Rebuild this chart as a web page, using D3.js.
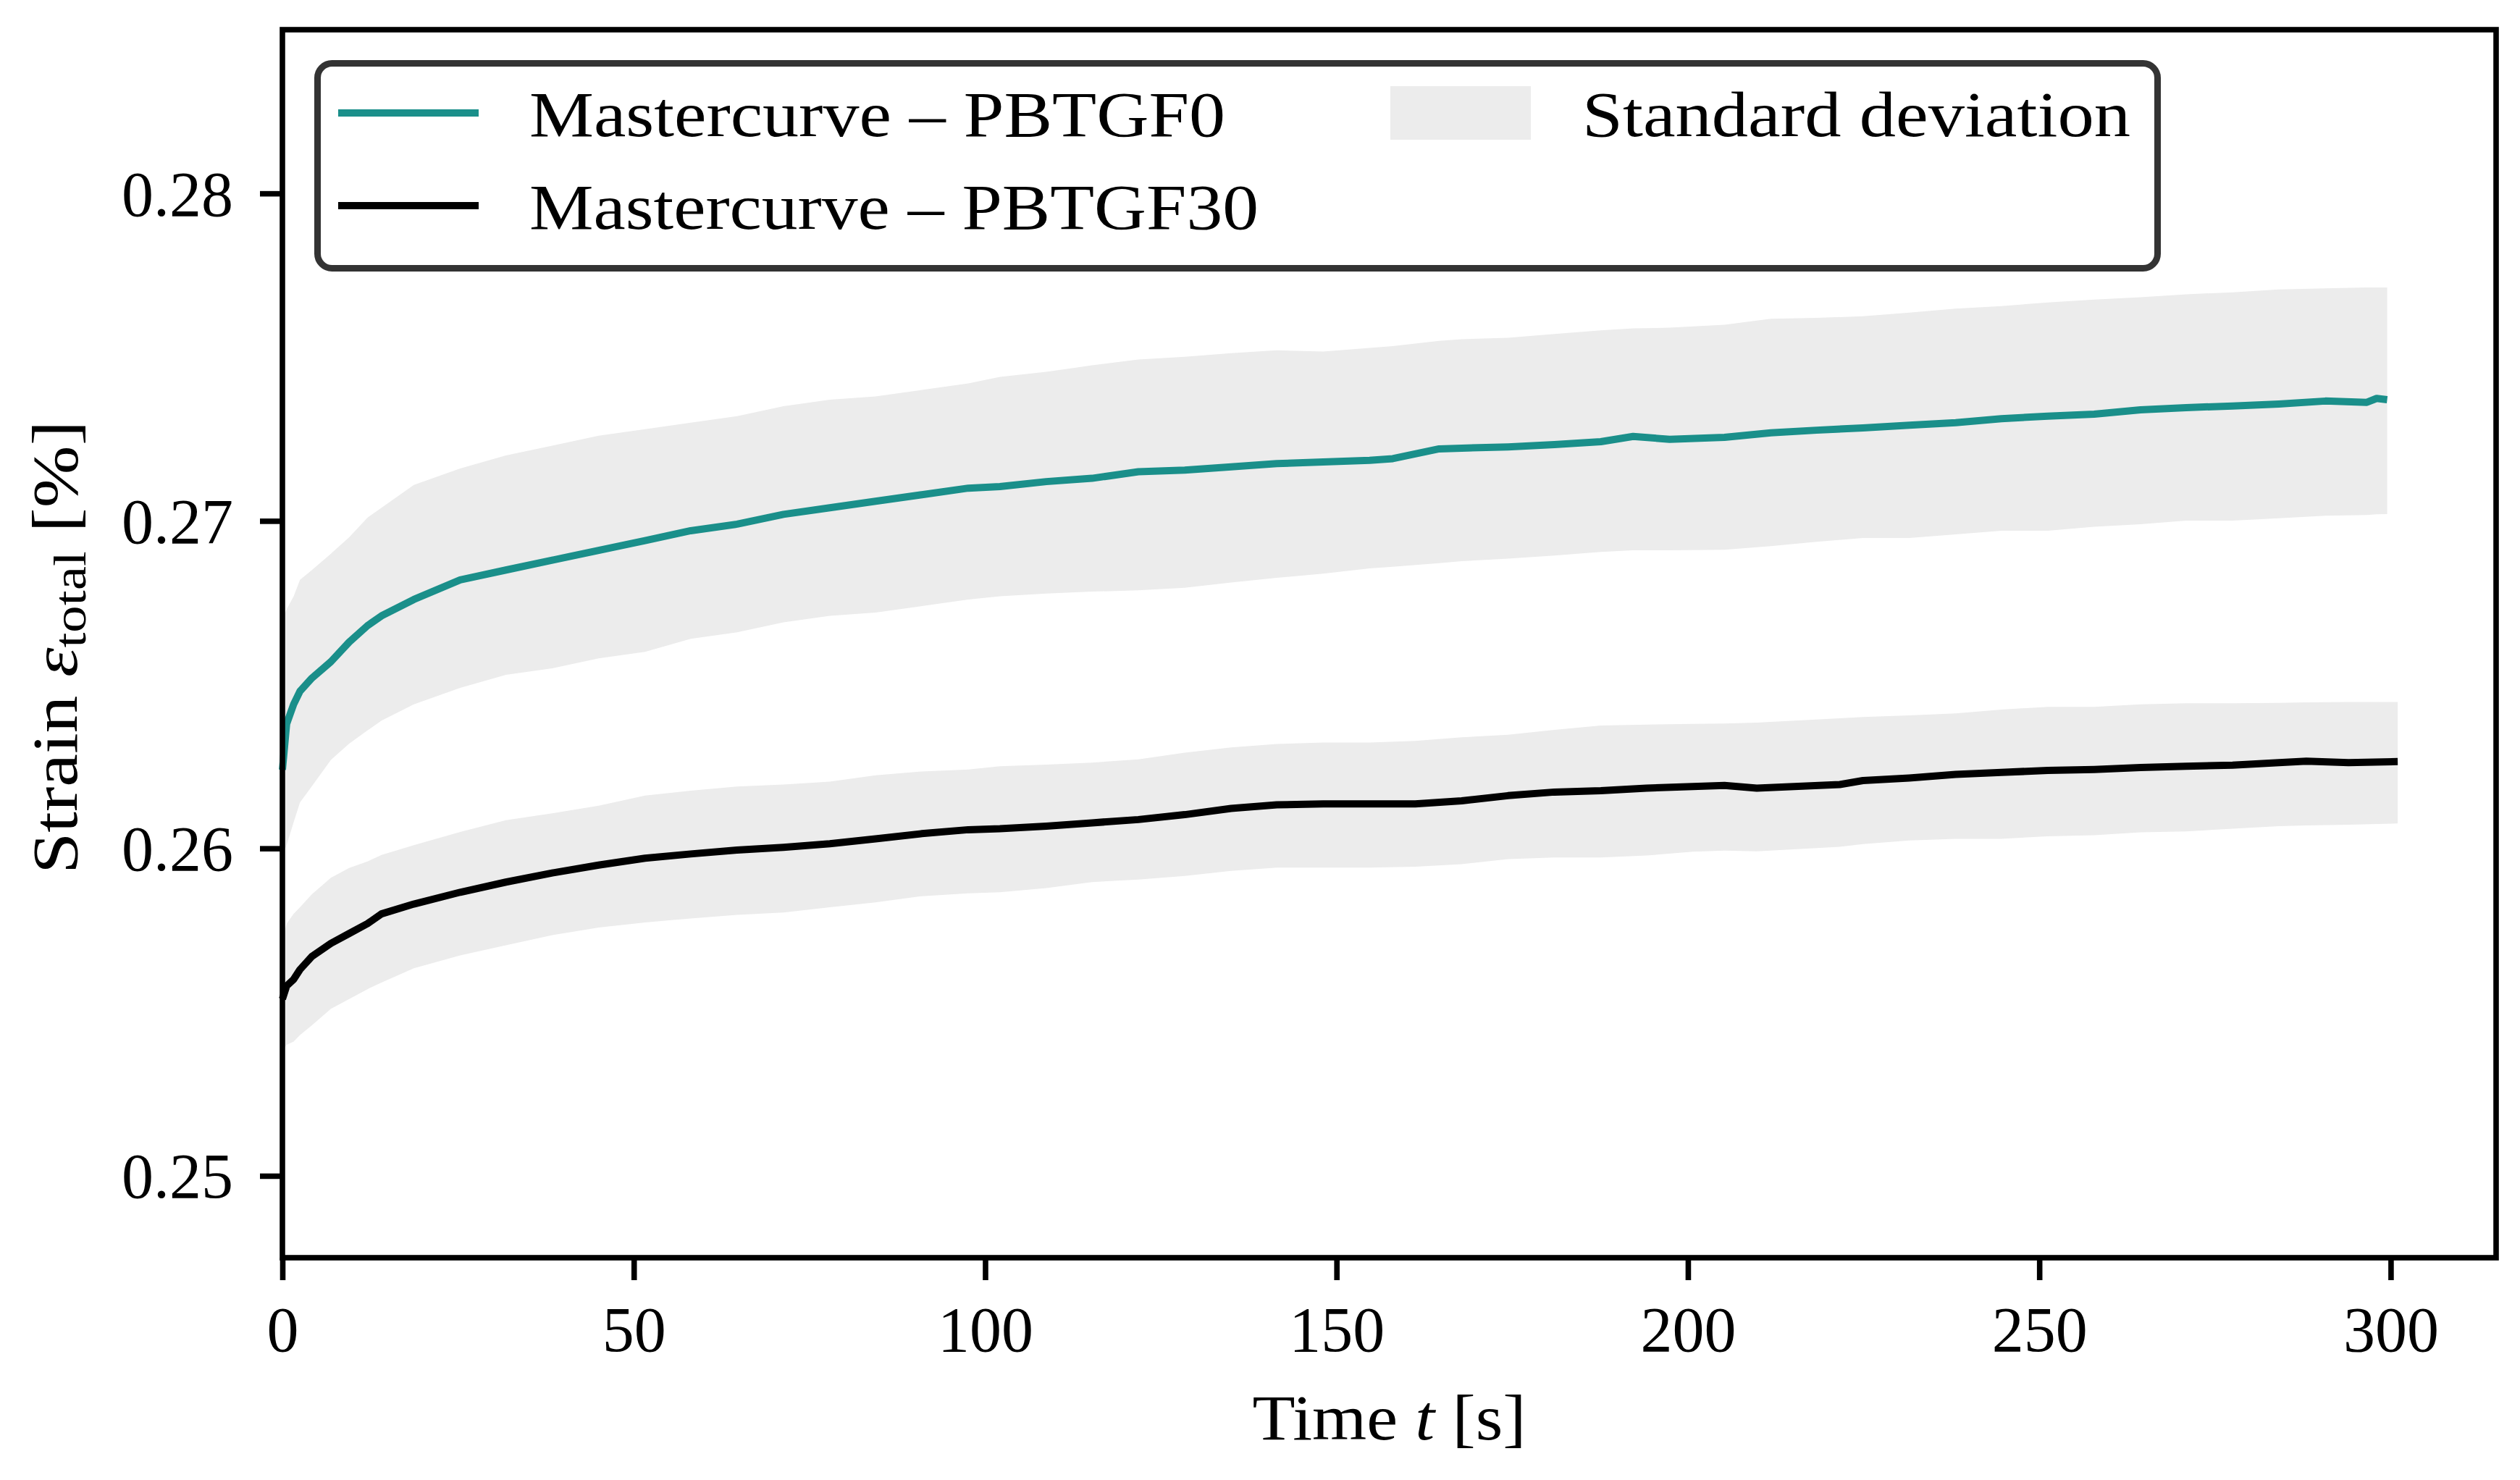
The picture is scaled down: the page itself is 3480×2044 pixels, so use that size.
<!DOCTYPE html>
<html>
<head>
<meta charset="utf-8">
<script src="https://cdn.jsdelivr.net/npm/d3@7"></script>
<style>
    body { margin: 0; background: #fff; }
    svg { display: block; }
    text { font-family: 'Liberation Serif', 'DejaVu Serif', serif; fill: #000; }
</style>
</head>
<body>
<div id="chart"></div>
<script>
// Mastercurve PBTGF0 (time [s], mean, mean - std, mean + std)
const tGF0 = [0, 0.6, 1.6, 2.5, 4.2, 6.9, 9.5, 12.1, 14.1, 18.7,
    25.3, 31.8, 38.4, 45, 51.6, 58.1, 64.7, 71.3, 77.9, 84.4,
    91, 97.6, 102.1, 108.7, 115.2, 121.8, 128.4, 135, 141.5, 148.1,
    154.7, 158, 164.6, 167.8, 174.4, 181, 187.6, 192.2, 197.4, 205.2,
    211.8, 218.3, 224.9, 231.5, 238.1, 244.6, 251.2, 257.8, 264.4, 270.9,
    277.5, 284.1, 290.7, 296.6, 298, 299.5];
const meanGF0 = [0.2624, 0.2638, 0.2644, 0.2648, 0.2652, 0.2657, 0.2663, 0.2668, 0.2671, 0.2676,
    0.2682, 0.2685, 0.2688, 0.2691, 0.2694, 0.2697, 0.2699, 0.2702, 0.2704, 0.2706,
    0.2708, 0.2710, 0.27105, 0.2712, 0.2713, 0.2715, 0.27155, 0.27165, 0.27175, 0.2718,
    0.27185, 0.2719, 0.2722, 0.27222, 0.27226, 0.27233, 0.27242, 0.27258, 0.27249, 0.27255,
    0.27269, 0.27277, 0.27284, 0.27292, 0.27300, 0.27312, 0.27320, 0.27326, 0.27339, 0.27346,
    0.27351, 0.27357, 0.27366, 0.27362, 0.27374, 0.27370];
const lowerGF0 = [0.2598, 0.2601, 0.2608, 0.2614, 0.2619, 0.2627, 0.2632, 0.2636, 0.2639, 0.2644,
    0.2649, 0.2653, 0.2655, 0.2658, 0.2660, 0.2664, 0.2666, 0.2669, 0.2671, 0.2672,
    0.2674, 0.2676, 0.2677, 0.26778, 0.26784, 0.26788, 0.26796, 0.26812, 0.26826, 0.26839,
    0.26855, 0.26860, 0.26871, 0.26877, 0.26885, 0.26894, 0.26905, 0.26910, 0.26910, 0.26912,
    0.26923, 0.26936, 0.26948, 0.26948, 0.26959, 0.26970, 0.26970, 0.26982, 0.26990, 0.27001,
    0.27001, 0.27008, 0.27016, 0.27018, 0.27020, 0.27021];
const upperGF0 = [0.2670, 0.2673, 0.2677, 0.2682, 0.2685, 0.2690, 0.2695, 0.2701, 0.2704, 0.2711,
    0.2716, 0.2720, 0.2723, 0.2726, 0.2728, 0.2730, 0.2732, 0.2735, 0.2737, 0.2738,
    0.2740, 0.2742, 0.2744, 0.27455, 0.27475, 0.27493, 0.27501, 0.27512, 0.27521, 0.27517,
    0.27528, 0.27534, 0.27550, 0.27555, 0.27559, 0.27571, 0.27582, 0.27588, 0.27590, 0.27599,
    0.27617, 0.27620, 0.27625, 0.27636, 0.27648, 0.27656, 0.27667, 0.27676, 0.27683, 0.27692,
    0.27698, 0.27707, 0.27710, 0.27713, 0.27713, 0.27713];

// Mastercurve PBTGF30
const tGF30 = [0, 0.6, 1.6, 2.5, 4.2, 6.9, 9.5, 12.1, 14.1, 18.7,
    25.3, 31.8, 38.4, 45, 51.6, 58.1, 64.7, 71.3, 77.9, 84.4,
    91, 97.6, 102.1, 108.7, 115.2, 121.8, 128.4, 135, 141.5, 148.1,
    154.7, 161.2, 167.8, 174.4, 181, 187.6, 194.1, 200.7, 205.2, 209.8,
    221.6, 224.9, 231.5, 238.1, 244.6, 251.2, 257.8, 264.4, 270.9, 277.5,
    284.1, 288, 294, 301];
const meanGF30 = [0.2554, 0.2558, 0.2560, 0.2563, 0.2567, 0.2571, 0.2574, 0.2577, 0.2580, 0.2583,
    0.25866, 0.25897, 0.25925, 0.25949, 0.25970, 0.25983, 0.25995, 0.26003, 0.26014, 0.26029,
    0.26045, 0.26057, 0.26060, 0.26068, 0.26078, 0.26088, 0.26103, 0.26122, 0.26133, 0.26136,
    0.26136, 0.26136, 0.26145, 0.26161, 0.26172, 0.26176, 0.26184, 0.26189, 0.26192, 0.26184,
    0.26195, 0.26207, 0.26215, 0.26226, 0.26232, 0.26238, 0.26241, 0.26247, 0.26251, 0.26254,
    0.26262, 0.26266, 0.26262, 0.26265];
const lowerGF30 = [0.2538, 0.2540, 0.2541, 0.2543, 0.2546, 0.2551, 0.2554, 0.2557, 0.2559, 0.25634,
    0.25673, 0.25704, 0.25735, 0.25758, 0.25774, 0.25786, 0.25797, 0.25804, 0.25820, 0.25835,
    0.25854, 0.25863, 0.25866, 0.25879, 0.25897, 0.25905, 0.25916, 0.25931, 0.25941, 0.25941,
    0.25941, 0.25944, 0.25952, 0.25967, 0.25972, 0.25972, 0.25978, 0.25990, 0.25993, 0.25991,
    0.26005, 0.26013, 0.26024, 0.26029, 0.26029, 0.26037, 0.26040, 0.26049, 0.26052, 0.26060,
    0.26068, 0.26070, 0.26072, 0.26076];
const upperGF30 = [0.2572, 0.2577, 0.2580, 0.2582, 0.2586, 0.2591, 0.2594, 0.2596, 0.2598, 0.2601,
    0.2605, 0.26086, 0.26107, 0.26130, 0.26161, 0.26176, 0.26189, 0.26195, 0.26204, 0.26223,
    0.26235, 0.26241, 0.26251, 0.26256, 0.26262, 0.26272, 0.26292, 0.26308, 0.26319, 0.26323,
    0.26323, 0.26328, 0.26339, 0.26347, 0.26362, 0.26375, 0.26378, 0.26380, 0.26381, 0.26384,
    0.26397, 0.26401, 0.26406, 0.26412, 0.26424, 0.26432, 0.26432, 0.26440, 0.26443, 0.26443,
    0.26444, 0.26446, 0.26447, 0.26447];

// Axis ticks and legend labels
const xTicks = [0, 50, 100, 150, 200, 250, 300];
const yTicks = [0.25, 0.26, 0.27, 0.28];
const legendLines = ['Mastercurve – PBTGF0', 'Mastercurve – PBTGF30'];
const legendBand = 'Standard deviation';

const width = 3480;
const height = 2044;
const plot = { left: 390, right: 3447, top: 41, bottom: 1737 };
const colors = { gf0: '#1a8f8a', gf30: '#000000', band: '#ececec', frame: '#333333' };
const fontSize = 88;
const lineWidth = 10;
const spineWidth = 7.6;
const tickLen = 31;

const svg = d3.select('#chart').append('svg')
    .attr('width', width)
    .attr('height', height);

svg.append('rect')
    .attr('width', width)
    .attr('height', height)
    .attr('fill', '#fff');

// Scales
const x = d3.scaleLinear()
    .domain([0, 315])
    .range([plot.left, plot.right]);

const y = d3.scaleLinear()
    .domain([0.2475, 0.285])
    .range([plot.bottom, plot.top]);

// Build row tables from the arrays
const rowsGF0 = tGF0.map((t, i) => ({ t, mean: meanGF0[i], lo: lowerGF0[i], hi: upperGF0[i] }));
const rowsGF30 = tGF30.map((t, i) => ({ t, mean: meanGF30[i], lo: lowerGF30[i], hi: upperGF30[i] }));

const area = d3.area()
    .x(d => x(d.t))
    .y0(d => y(d.lo))
    .y1(d => y(d.hi));

const line = d3.line()
    .x(d => x(d.t))
    .y(d => y(d.mean));

// Standard deviation bands
[rowsGF0, rowsGF30].forEach(rows => {
    svg.append('path')
        .datum(rows)
        .attr('d', area)
        .attr('fill', colors.band)
        .attr('stroke', 'none');
});

// Mean curves
svg.append('path')
    .datum(rowsGF0)
    .attr('d', line)
    .attr('fill', 'none')
    .attr('stroke', colors.gf0)
    .attr('stroke-width', lineWidth)
    .attr('stroke-linejoin', 'round');

svg.append('path')
    .datum(rowsGF30)
    .attr('d', line)
    .attr('fill', 'none')
    .attr('stroke', colors.gf30)
    .attr('stroke-width', lineWidth)
    .attr('stroke-linejoin', 'round');

// X axis
const xAxis = svg.append('g')
    .attr('transform', `translate(0, ${plot.bottom})`)
    .call(d3.axisBottom(x).tickValues(xTicks).tickSize(tickLen).tickFormat(d3.format('d')));

xAxis.select('.domain').remove();
xAxis.selectAll('.tick line')
    .attr('stroke', '#000')
    .attr('stroke-width', spineWidth);
xAxis.selectAll('.tick text')
    .attr('y', 129)
    .attr('dy', null)
    .style('font-size', fontSize + 'px')
    .style('font-family', "'Liberation Serif', 'DejaVu Serif', serif")
    .attr('fill', '#000');

// Y axis
const yAxis = svg.append('g')
    .attr('transform', `translate(${plot.left}, 0)`)
    .call(d3.axisLeft(y).tickValues(yTicks).tickSize(tickLen).tickFormat(d3.format('.2f')));

yAxis.select('.domain').remove();
yAxis.selectAll('.tick line')
    .attr('stroke', '#000')
    .attr('stroke-width', spineWidth);
yAxis.selectAll('.tick text')
    .attr('x', -68)
    .attr('dy', '0.34em')
    .style('font-size', fontSize + 'px')
    .style('font-family', "'Liberation Serif', 'DejaVu Serif', serif")
    .attr('fill', '#000');

// Spines on all four sides
svg.append('rect')
    .attr('x', plot.left)
    .attr('y', plot.top)
    .attr('width', plot.right - plot.left)
    .attr('height', plot.bottom - plot.top)
    .attr('fill', 'none')
    .attr('stroke', '#000')
    .attr('stroke-width', spineWidth);

// Axis titles
const xLabel = svg.append('text')
    .attr('x', (plot.left + plot.right) / 2)
    .attr('y', 1988)
    .attr('text-anchor', 'middle')
    .attr('textLength', 378)
    .attr('lengthAdjust', 'spacingAndGlyphs')
    .style('font-size', fontSize + 'px');
xLabel.append('tspan').text('Time ');
xLabel.append('tspan').style('font-style', 'italic').text('t');
xLabel.append('tspan').text(' [s]');

const yLabel = svg.append('text')
    .attr('transform', 'translate(106, 894) rotate(-90)')
    .attr('text-anchor', 'middle')
    .attr('textLength', 626)
    .attr('lengthAdjust', 'spacingAndGlyphs')
    .style('font-size', fontSize + 'px');
yLabel.append('tspan').text('Strain ');
yLabel.append('tspan').style('font-style', 'italic').text('ε');
yLabel.append('tspan').attr('dy', 12).style('font-size', '64px').text('total');
yLabel.append('tspan').attr('dy', -12).text(' [%]');

// Legend
const legend = svg.append('g');

legend.append('rect')
    .attr('x', 438.5)
    .attr('y', 87.5)
    .attr('width', 2541)
    .attr('height', 283)
    .attr('rx', 20)
    .attr('fill', '#fff')
    .attr('stroke', colors.frame)
    .attr('stroke-width', 9);

const legendRows = [
    { label: legendLines[0], color: colors.gf0, lineY: 156, baseY: 188, len: 961 },
    { label: legendLines[1], color: colors.gf30, lineY: 284, baseY: 316, len: 1007 }
];

legendRows.forEach(r => {
    legend.append('line')
        .attr('x1', 467)
        .attr('x2', 661)
        .attr('y1', r.lineY)
        .attr('y2', r.lineY)
        .attr('stroke', r.color)
        .attr('stroke-width', lineWidth);

    legend.append('text')
        .attr('x', 731)
        .attr('y', r.baseY)
        .attr('textLength', r.len)
        .attr('lengthAdjust', 'spacingAndGlyphs')
        .style('font-size', fontSize + 'px')
        .text(r.label);
});

legend.append('rect')
    .attr('x', 1920)
    .attr('y', 119)
    .attr('width', 194)
    .attr('height', 74)
    .attr('fill', colors.band);

legend.append('text')
    .attr('x', 2185)
    .attr('y', 188)
    .attr('textLength', 757)
    .attr('lengthAdjust', 'spacingAndGlyphs')
    .style('font-size', fontSize + 'px')
    .text(legendBand);
</script>
</body>
</html>
